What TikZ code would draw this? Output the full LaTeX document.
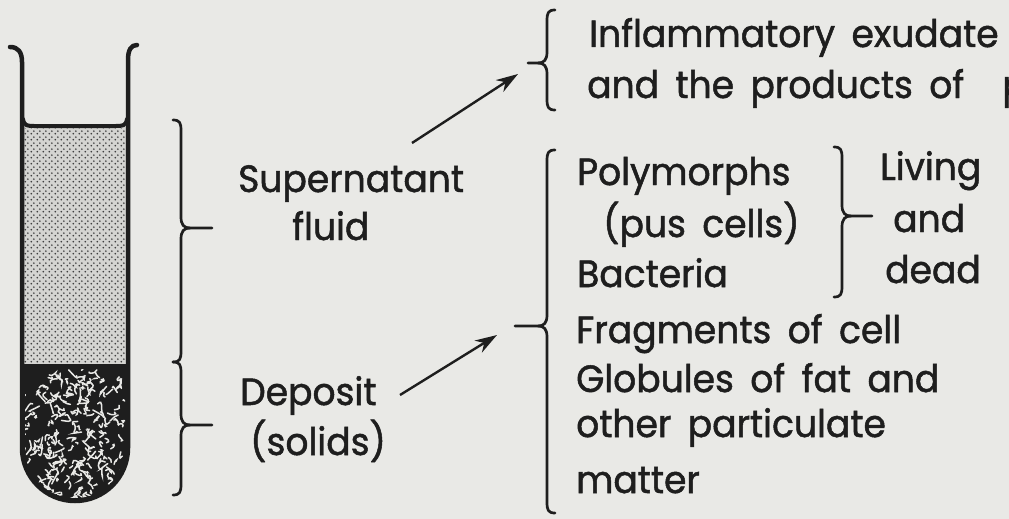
\documentclass[tikz,border=0pt]{standalone}
\usepackage{fontspec}
\setmainfont{Poppins}[FakeStretch=0.95,FakeBold=1.3,WordSpace=1.7]
\usetikzlibrary{arrows.meta,patterns}

\definecolor{paper}{RGB}{233,233,230}
\definecolor{ink}{RGB}{30,30,30}
\definecolor{fluidgray}{RGB}{212,212,209}

% fine diagonal dot grid for the supernatant fluid
\pgfdeclarepatternformonly{stipple}{\pgfpointorigin}{\pgfpoint{6pt}{6pt}}{\pgfpoint{6pt}{6pt}}{%
  \pgfpathcircle{\pgfpoint{1.5pt}{1.5pt}}{1.1pt}%
  \pgfpathcircle{\pgfpoint{4.5pt}{4.5pt}}{1.1pt}%
  \pgfusepath{fill}}

% brace with tip pointing right: spine x, top y, bottom y, tip x, tip y
\newcommand\closebrace[6][]{%
  \draw[bracepath,#1] (#2-8,#3) .. controls (#2-1,#3) and (#2,#3+3) .. (#2,#3+11)
    -- (#2,#6-11) .. controls (#2,#6-3) and (#2+3,#6) .. (#2+9,#6) -- (#5,#6);
  \draw[bracepath,#1] (#2+9,#6) .. controls (#2+3,#6) and (#2,#6+3) .. (#2,#6+11)
    -- (#2,#4-11) .. controls (#2,#4-3) and (#2-1,#4) .. (#2-8,#4);}
% brace with tip pointing left
\newcommand\openbrace[6][]{%
  \draw[bracepath,#1] (#2+8,#3) .. controls (#2+1,#3) and (#2,#3+3) .. (#2,#3+11)
    -- (#2,#6-11) .. controls (#2,#6-3) and (#2-3,#6) .. (#2-9,#6) -- (#5,#6);
  \draw[bracepath,#1] (#2-9,#6) .. controls (#2-3,#6) and (#2,#6+3) .. (#2,#6+11)
    -- (#2,#4-11) .. controls (#2,#4-3) and (#2+1,#4) .. (#2+8,#4);}

\begin{document}
\begin{tikzpicture}[x=1pt,y=-1pt,
  lbl/.style={anchor=base west,inner sep=0pt,text=ink,font=\fontsize{38}{38}\selectfont},
  bracepath/.style={draw=ink,line width=2.7pt,line cap=round,line join=round},
  pointer/.style={draw=ink,line width=2.4pt,-{Stealth[length=22pt,width=14pt,inset=7pt]}},
  wall/.style={draw=ink,line width=4.5pt,line join=round,line cap=round},
  squiggle/.style={draw=paper,line width=1.5pt,line cap=round}]

\useasboundingbox (0,0) rectangle (1009,519);
\clip (0,0) rectangle (1009,519);
\fill[paper] (0,0) rectangle (1009,519);

% ---- test tube ----
% deposit (dark solids)
\fill[ink] (22,365) -- (22,448) .. controls (22,477.3) and (45.7,501) .. (75,501)
  .. controls (104.3,501) and (128,477.3) .. (128,448) -- (128,365) -- cycle;
\begin{scope}
  \clip (25,369) -- (25,448) .. controls (25,475.6) and (47.4,498) .. (75,498)
    .. controls (102.6,498) and (125,475.6) .. (125,448) -- (125,369) -- cycle;
  \pgfmathsetseed{7}
  \foreach \i in {1,...,250}{
    \pgfmathsetmacro\sx{25+100*rnd}
    \pgfmathsetmacro\sy{370+130*rnd}
    \pgfmathsetmacro\ax{\sx+6*rand}
    \pgfmathsetmacro\ay{\sy+6*rand}
    \pgfmathsetmacro\bx{\sx+6*rand}
    \pgfmathsetmacro\by{\sy+6*rand}
    \pgfmathsetmacro\cx{\bx+5*rand}
    \pgfmathsetmacro\cy{\by+5*rand}
    \draw[squiggle] (\sx,\sy) .. controls (\ax,\ay) and (\bx,\by) .. (\cx,\cy);
  }
\end{scope}
% supernatant fluid
\fill[fluidgray] (22,126) rectangle (128,365);
\fill[pattern=stipple,pattern color=ink!85] (24,128) rectangle (126,363);
\draw[ink,line width=2.5pt] (22,365) -- (128,365);
% meniscus
\draw[ink,line width=4pt,line cap=round] (23,119) .. controls (24,126) and (28,126) .. (34,126)
  -- (116,126) .. controls (122,126) and (126,126) .. (127,119);
% glass with lipped rim
\draw[wall] (10,47) .. controls (18,47) and (22,52) .. (22,62) -- (22,448)
  .. controls (22,477.3) and (45.7,501) .. (75,501)
  .. controls (104.3,501) and (128,477.3) .. (128,448) -- (128,60)
  .. controls (128,50) and (131,45) .. (137,45);

% braces beside the tube
\closebrace{181}{120}{362}{212}{228}
\closebrace{181}{362}{495}{212}{425}

% ---- labels ----
\node[lbl] (sup) at (238,192) {Supernatant};
\node[lbl] (fluid) at (292,240) {fluid};
\node[lbl] (dep) at (240,405) {Deposit};
\node[lbl] (sol) at (250,455) {(solids)};

\node[lbl] (infl) at (589,47) {Inflammatory exudate};
\node[lbl] (prod) at (587,98) {and the products of\hspace{38pt}pus};

\node[lbl] (poly) at (577,185) {Polymorphs};
\node[lbl] (pus) at (603,237) {(pus cells)};
\node[lbl] (bact) at (577,287) {Bacteria};
\node[lbl] (frag) at (576,343) {Fragments of cell};
\node[lbl] (glob) at (576,392) {Globules of fat and};
\node[lbl] (other) at (576,437) {other particulate};
\node[lbl] (matt) at (576,493) {matter};

\node[lbl] (liv) at (880,180) {Living};
\node[lbl] (and) at (893,232) {and};
\node[lbl] (dead) at (885,283) {dead};

% braces grouping the lists
\openbrace{547}{10}{110}{528}{63}
\openbrace{547}{150}{513}{515}{326}
\closebrace{842}{147}{297}{872}{216}

% ---- pointers ----
\coordinate (supTail) at (412,143);
\coordinate (inflTip) at (518,74);
\coordinate (depTail) at (400,395);
\coordinate (solTip) at (497,335);
\draw[pointer] (supTail) -- (inflTip);
\draw[pointer] (depTail) -- (solTip);
\end{tikzpicture}
\end{document}
